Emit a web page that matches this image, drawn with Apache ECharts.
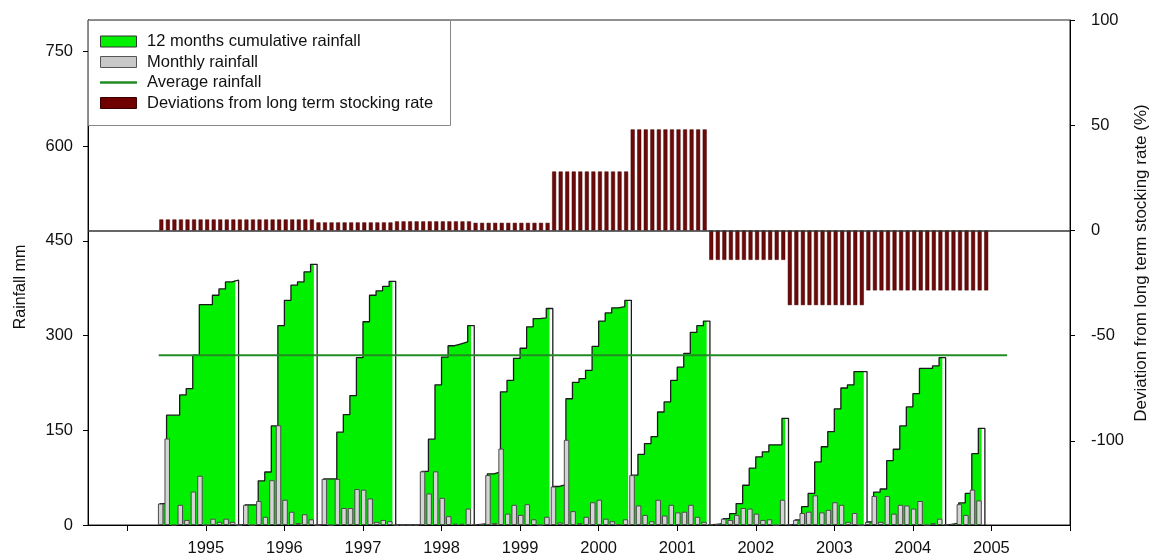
<!DOCTYPE html>
<html>
<head>
<meta charset="utf-8">
<script src="https://cdn.jsdelivr.net/npm/echarts@6/dist/echarts.min.js"></script>
<style>
html,body{margin:0;padding:0;background:#fff;}
#c{width:1152px;height:557px;}
</style>
</head>
<body>
<div id="c"></div>
<script>
// ---- Data ----
// Rainfall seasons run June -> May; season s starts in June of seasonStartYears[s]
const seasonStartYears = [1994, 1995, 1996, 1997, 1998, 1999, 2000, 2001, 2002, 2003, 2004];

// 12 months cumulative rainfall (mm), one value per month from June
const cum9495 = [34, 174, 174, 206, 216, 269, 349, 349, 364, 374, 385, 388];
const cum9596 = [0, 32, 32, 70, 84, 157, 316, 356, 380, 385, 401, 413];
const cum9697 = [0, 73, 73, 147, 175, 205, 265, 322, 364, 371, 378, 386];
const cum9798 = [0, 0, 0, 0, 85, 136, 222, 266, 284, 287, 290, 316];
const cum9899 = [1, 2, 81, 84, 211, 229, 264, 280, 314, 327, 328, 343];
const cum9900 = [61, 64, 200, 226, 232, 245, 283, 323, 336, 344, 346, 356];
const cum0001 = [79, 112, 129, 140, 179, 195, 229, 250, 272, 305, 316, 323];
const cum0102 = [1, 2, 10, 18, 34, 63, 90, 108, 116, 127, 127, 169];
const cum0203 = [1, 8, 29, 50, 100, 124, 148, 184, 217, 222, 243, 243];
const cum0304 = [5, 52, 57, 102, 120, 157, 187, 208, 248, 248, 252, 265];
const cum0405 = [1, 3, 35, 50, 113, 153];

// Monthly rainfall (mm), one value per month from June
const mon9495 = [34, 137, 0, 32, 8, 53, 78, 0, 10, 5, 10, 5];
const mon9596 = [0, 32, 0, 38, 13, 71, 158, 40, 21, 3, 17, 9];
const mon9697 = [0, 73, 0, 73, 27, 27, 57, 56, 42, 5, 8, 6];
const mon9798 = [0, 0, 0, 0, 85, 50, 85, 43, 14, 2, 2, 26];
const mon9899 = [1, 1, 79, 3, 121, 18, 32, 16, 33, 9, 0, 13];
const mon9900 = [61, 4, 135, 22, 3, 13, 36, 40, 10, 6, 1, 9];
const mon0001 = [79, 31, 16, 6, 40, 15, 32, 20, 21, 32, 13, 5];
const mon0102 = [1, 1, 10, 8, 16, 27, 26, 18, 8, 9, 0, 40];
const mon0203 = [1, 8, 19, 21, 47, 20, 24, 36, 32, 5, 19, 0];
const mon0304 = [5, 46, 5, 46, 18, 32, 31, 26, 38, 0, 3, 10];
const mon0405 = [1, 2, 33, 16, 56, 39];

// Deviation from long term stocking rate (%), one value per season, and months shown per season
const deviationBySeason = [5.2, 5.2, 3.8, 4.3, 3.6, 28, 48, -14, -35.5, -28.5, -28.5];
const deviationMonths   = [12, 12, 12, 12, 12, 12, 12, 12, 12, 12, 7];

// Average rainfall (mm) and the span of the line (decimal years)
const averageRainfall = 269;
const averageSpan = [1994.4, 2005.2];

// Axis ticks / labels
const xTickYears  = [1994, 1995, 1996, 1997, 1998, 1999, 2000, 2001, 2002, 2003, 2004, 2005, 2006];
const xLabelYears = [1995, 1996, 1997, 1998, 1999, 2000, 2001, 2002, 2003, 2004, 2005];
const leftTicks   = [0, 150, 300, 450, 600, 750];
const rightTicks  = [-100, -50, 0, 50, 100];

// ---- Build chart ----
const cumSeasons = [cum9495, cum9596, cum9697, cum9798, cum9899, cum9900, cum0001, cum0102, cum0203, cum0304, cum0405];
const monSeasons = [mon9495, mon9596, mon9697, mon9798, mon9899, mon9900, mon0001, mon0102, mon0203, mon0304, mon0405];

// decimal-year position of the start of month m (0 = June) of season s
function monthX(s, m) { return seasonStartYears[s] + (5 + m) / 12; }

const FONT = "'Liberation Sans', Arial, sans-serif";
const series = [];

cumSeasons.forEach(function (cum, s) {
  const n = cum.length;
  const area = [];
  cum.forEach(function (v, m) { area.push([monthX(s, m), v]); });
  area.push([monthX(s, n - 0.5), cum[n - 1]]);
  const outline = [[monthX(s, 0), 0]];
  cum.forEach(function (v, m) { outline.push([monthX(s, m), v]); });
  outline.push([monthX(s, n), cum[n - 1]]);
  outline.push([monthX(s, n), 0]);
  series.push({
    type: 'line', data: area, step: 'end', symbol: 'none', silent: true,
    lineStyle: { width: 0 }, areaStyle: { color: '#00f000', opacity: 1 }, z: 1
  });
  series.push({
    type: 'line', data: outline, step: 'end', symbol: 'none', silent: true,
    lineStyle: { color: '#1a1a1a', width: 1.3 }, z: 2
  });
});

const monthlyData = [];
monSeasons.forEach(function (mon, s) {
  mon.forEach(function (v, m) { monthlyData.push([monthX(s, m) + 0.1 / 12, v]); });
});
series.push({
  type: 'bar', name: 'Monthly rainfall', data: monthlyData, barWidth: 5.5, silent: true,
  itemStyle: { color: '#d4d4d4', borderColor: '#4a4a4a', borderWidth: 1 }, z: 3
});

const devData = [];
deviationBySeason.forEach(function (d, s) {
  for (let m = 0; m < deviationMonths[s]; m++) devData.push([monthX(s, m) + 0.2 / 12, d]);
});
series.push({
  type: 'bar', name: 'Deviations', xAxisIndex: 1, yAxisIndex: 1, data: devData, barWidth: 4, silent: true,
  itemStyle: { color: '#6b0a0a', borderColor: '#4a0000', borderWidth: 0.5 }, z: 4,
  markLine: {
    silent: true, symbol: 'none', label: { show: false },
    lineStyle: { color: '#333', width: 1.5, type: 'solid' },
    data: [{ yAxis: 0 }]
  }
});

series.push({
  type: 'line', name: 'Average rainfall', silent: true, symbol: 'none',
  data: [[averageSpan[0], averageRainfall], [averageSpan[1], averageRainfall]],
  lineStyle: { color: '#238b23', width: 2 }, z: 5
});

const legendRows = [
  { text: '12 months cumulative rainfall', kind: 'rect', fill: '#00f000', stroke: '#333' },
  { text: 'Monthly rainfall', kind: 'rect', fill: '#c8c8c8', stroke: '#555' },
  { text: 'Average rainfall', kind: 'line', fill: '#238b23' },
  { text: 'Deviations from long term stocking rate', kind: 'rect', fill: '#700000', stroke: '#3a0000' }
];
const legendGraphics = [{
  type: 'rect', z: 100, shape: { x: 88.5, y: 20.5, width: 362, height: 105 },
  style: { fill: '#fff', stroke: '#888', lineWidth: 1 }
}];
legendRows.forEach(function (r, i) {
  const cy = 41.5 + i * 20.5;
  if (r.kind === 'rect') {
    legendGraphics.push({ type: 'rect', z: 101, shape: { x: 100.5, y: cy - 5.5, width: 36, height: 11 },
      style: { fill: r.fill, stroke: r.stroke, lineWidth: 1 } });
  } else {
    legendGraphics.push({ type: 'line', z: 101, shape: { x1: 100, y1: cy, x2: 137, y2: cy },
      style: { stroke: r.fill, lineWidth: 2.5 } });
  }
  legendGraphics.push({ type: 'text', z: 101, x: 147, y: cy,
    style: { text: r.text, fontSize: 16.5, fontFamily: FONT, fill: '#111', align: 'left', verticalAlign: 'middle' } });
});
legendGraphics.push({ type: 'text', z: 101, x: 21, y: 287, rotation: Math.PI / 2,
  style: { text: 'Rainfall mm', fontSize: 16, fontFamily: FONT, fill: '#111', align: 'center', verticalAlign: 'middle' } });
legendGraphics.push({ type: 'text', z: 101, x: 1141, y: 263, rotation: Math.PI / 2,
  style: { text: 'Deviation from long term stocking rate (%)', fontSize: 17, fontFamily: FONT, fill: '#111', align: 'center', verticalAlign: 'middle' } });

const axisLineStyle = { color: '#000', width: 1 };
const option = {
  animation: false,
  backgroundColor: '#fff',
  grid: { left: 88, right: 82, top: 20, bottom: 32, show: true, borderColor: '#222', borderWidth: 1, backgroundColor: 'transparent' },
  xAxis: [{
    type: 'value', min: 1993.5, max: 2006, position: 'bottom',
    axisLine: { show: true, lineStyle: axisLineStyle },
    axisTick: { show: true, length: 6, lineStyle: axisLineStyle, customValues: xTickYears },
    axisLabel: { customValues: xLabelYears, fontSize: 16.5, fontFamily: FONT, color: '#111', margin: 15,
      formatter: function (v) { return String(Math.round(v)); } },
    splitLine: { show: false }
  }, {
    type: 'value', min: 1993.5, max: 2006, show: false, position: 'top'
  }],
  yAxis: [{
    type: 'value', min: 0, max: 800, position: 'left',
    axisLine: { show: true, lineStyle: axisLineStyle },
    axisTick: { show: true, length: 5, lineStyle: axisLineStyle, customValues: leftTicks },
    axisLabel: { customValues: leftTicks, fontSize: 16.5, fontFamily: FONT, color: '#111', margin: 15 },
    splitLine: { show: false }
  }, {
    type: 'value', min: -140, max: 100, position: 'right',
    axisLine: { show: true, lineStyle: axisLineStyle },
    axisTick: { show: true, length: 5, lineStyle: axisLineStyle, customValues: rightTicks },
    axisLabel: { customValues: rightTicks, fontSize: 16.5, fontFamily: FONT, color: '#111', margin: 21 },
    splitLine: { show: false }
  }],
  graphic: legendGraphics,
  series: series
};

const chart = echarts.init(document.getElementById('c'), null, { renderer: 'canvas' });
chart.setOption(option);
</script>
</body>
</html>
